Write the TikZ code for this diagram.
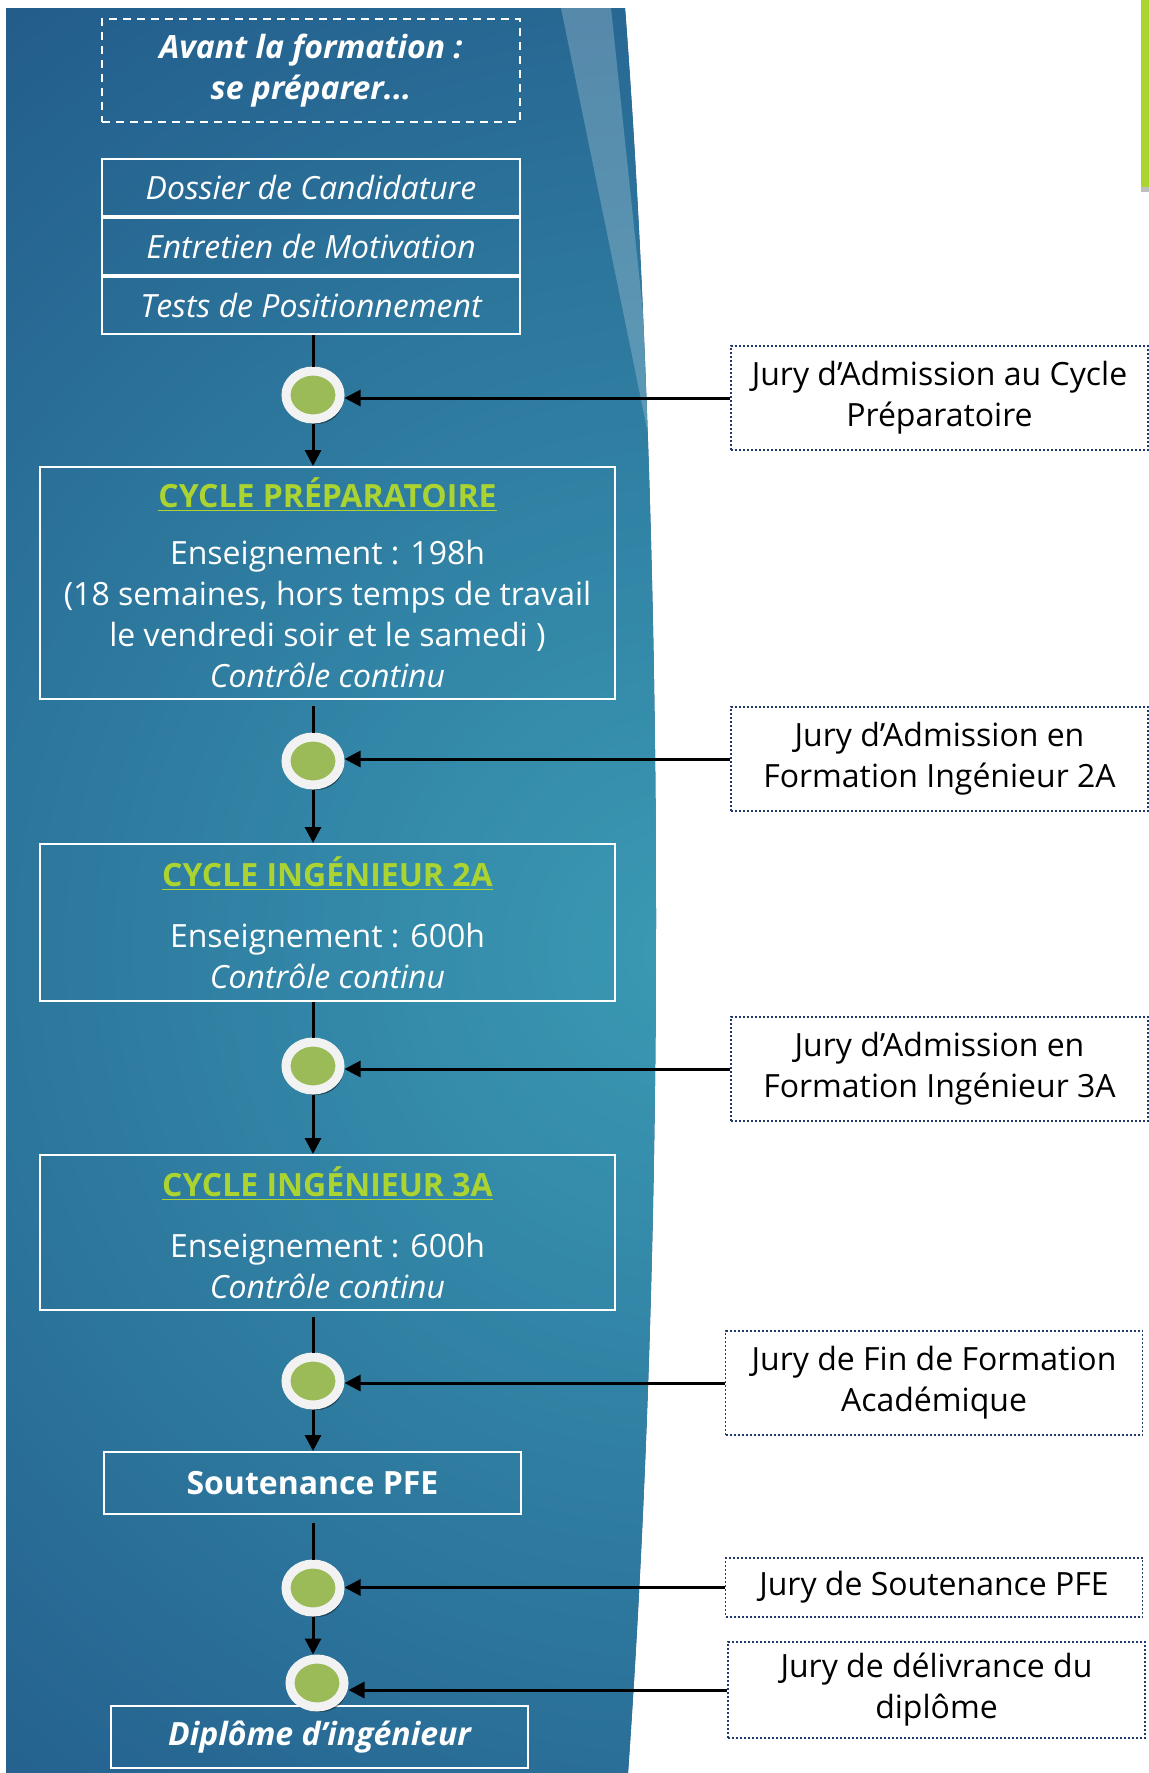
\documentclass[tikz,border=0pt]{standalone}
\usepackage{fontspec}
\setmainfont{Open Sans}
\usetikzlibrary{shapes, arrows.meta, positioning, calc, backgrounds, shadows}

\definecolor{panelDark}{RGB}{27,72,126}
\definecolor{panelLight}{RGB}{58,154,180}
\definecolor{titleGreen}{RGB}{172,212,48}
\definecolor{dotGreen}{RGB}{155,187,89}
\definecolor{ringGrey}{RGB}{242,242,242}
\definecolor{juryBlue}{RGB}{31,56,110}
\newcommand{\stdfont}{\fontsize{16}{20.5}\selectfont}

\tikzstyle{intro} = [rectangle, draw=white, line width=1pt, dash pattern=on 4pt off 3pt, text=white, font=\stdfont\bfseries\itshape, align=center, minimum width=209pt, minimum height=51.5pt, inner sep=0pt]
\tikzstyle{pre} = [rectangle, draw=white, line width=1pt, text=white, font=\stdfont\itshape, minimum width=209pt, minimum height=28.5pt, inner sep=0pt]
\tikzstyle{stage} = [rectangle, draw=white, line width=1pt, text=white, font=\stdfont, align=center, minimum width=287.5pt, inner sep=0pt]
\tikzstyle{final} = [rectangle, draw=white, line width=1pt, text=white, font=\stdfont\bfseries, minimum width=208.5pt, minimum height=31pt, inner sep=0pt]
\tikzstyle{jury} = [rectangle, draw=juryBlue, line width=0.75pt, dash pattern=on 1pt off 1pt, fill=white, text=black, font=\stdfont, align=center, minimum width=208.5pt, inner sep=0pt]
\tikzstyle{milestone} = [ellipse, fill=dotGreen, draw=ringGrey, line width=4.5pt, minimum width=27pt, minimum height=24pt, inner sep=0pt, drop shadow={shadow xshift=1.5pt, shadow yshift=-2.5pt, fill=black, opacity=.45}]
\tikzstyle{link} = [line width=1.5pt, black]
\tikzstyle{arrow} = [link, -{Triangle[length=8pt, width=8pt]}]

\newcommand{\stitle}[1]{{\color{titleGreen}\bfseries\underline{#1}}}

\begin{document}
\begin{tikzpicture}[x=0.5pt, y=-0.5pt]
        \useasboundingbox (0,0) rectangle (1149,1773);

        % Background panel
        \begin{scope}
            \clip (6,8) -- (625,8) .. controls (655,400) and (675,1100) .. (628,1773) -- (6,1773) -- cycle;
            \fill[panelDark] (0,0) rectangle (700,1773);
            \shade[inner color=panelLight, outer color=panelDark] (690,950) circle (1550);
            \fill[white, opacity=.22] (561,8) -- (611,8) -- (664,512) -- cycle;
        \end{scope}
        \fill[titleGreen] (1141,0) rectangle (1149,187);
        \fill[black!25] (1141,187) rectangle (1149,192);

        % Left Side: stages
        \node[intro] (avant) at (311,70.5) {Avant la formation :\\ se préparer...};
        \node[pre] (dossier) at (311,187.5) {Dossier de Candidature};
        \node[pre, below=0pt of dossier] (entretien) {Entretien de Motivation};
        \node[pre, below=0pt of entretien] (tests) {Tests de Positionnement};

        \node[stage, minimum height=116pt] (prep) at (327.5,583) {\stitle{CYCLE PRÉPARATOIRE}\\[8pt]
            Enseignement : 198h\\
            (18 semaines, hors temps de travail\\
            le vendredi soir et le samedi )\\
            \textit{Contrôle continu}};
        \node[stage, minimum height=78.5pt] (ing2) at (327.5,922.5) {\stitle{CYCLE INGÉNIEUR 2A}\\[10pt]
            Enseignement : 600h\\
            \textit{Contrôle continu}};
        \node[stage, minimum height=77.5pt] (ing3) at (327.5,1232.5) {\stitle{CYCLE INGÉNIEUR 3A}\\[10pt]
            Enseignement : 600h\\
            \textit{Contrôle continu}};
        \node[final] (pfe) at (312.5,1483) {Soutenance PFE};
        \node[final, font=\stdfont\bfseries\itshape] (diplome) at (319.5,1737) {Diplôme d’ingénieur};

        % Milestones
        \node[milestone] (c1) at (313,395) {};
        \node[milestone] (c2) at (313,761) {};
        \node[milestone] (c3) at (313,1066) {};
        \node[milestone] (c4) at (313,1381) {};
        \node[milestone] (c5) at (313,1588) {};
        \node[milestone] (c6) at (317,1683) {};

        % Right Side: juries
        \node[jury, minimum height=52pt] (j1) at (939.5,398) {Jury d’Admission au Cycle\\Préparatoire};
        \node[jury, minimum height=52pt] (j2) at (939.5,759) {Jury d’Admission en\\Formation Ingénieur 2A};
        \node[jury, minimum height=52pt] (j3) at (939.5,1069) {Jury d’Admission en\\Formation Ingénieur 3A};
        \node[jury, minimum height=52pt] (j4) at (934,1383) {Jury de Fin de Formation\\Académique};
        \node[jury, minimum height=29.5pt] (j5) at (934,1587.5) {Jury de Soutenance PFE};
        \node[jury, minimum height=48pt] (j6) at (936.5,1690) {Jury de délivrance du\\diplôme};

        % Flow
        \draw[link] (c1 |- tests.south) -- (c1);
        \draw[arrow] (c1) -- (c1 |- prep.north);
        \draw[link, shorten <=3pt] (c2 |- prep.south) -- (c2);
        \draw[arrow] (c2) -- (c2 |- ing2.north);
        \draw[link] (c3 |- ing2.south) -- (c3);
        \draw[arrow] (c3) -- (c3 |- ing3.north);
        \draw[link, shorten <=3pt] (c4 |- ing3.south) -- (c4);
        \draw[arrow] (c4) -- (c4 |- pfe.north);
        \draw[link, shorten <=4pt] (c5 |- pfe.south) -- (c5);
        \draw[arrow] (c5) -- (c5 |- c6.north);

        \foreach \j/\c in {j1/c1, j2/c2, j3/c3, j4/c4, j5/c5, j6/c6}
            \draw[arrow] (\j.west) -- (\j.west -| \c.east);
    \end{tikzpicture}
\end{document}
